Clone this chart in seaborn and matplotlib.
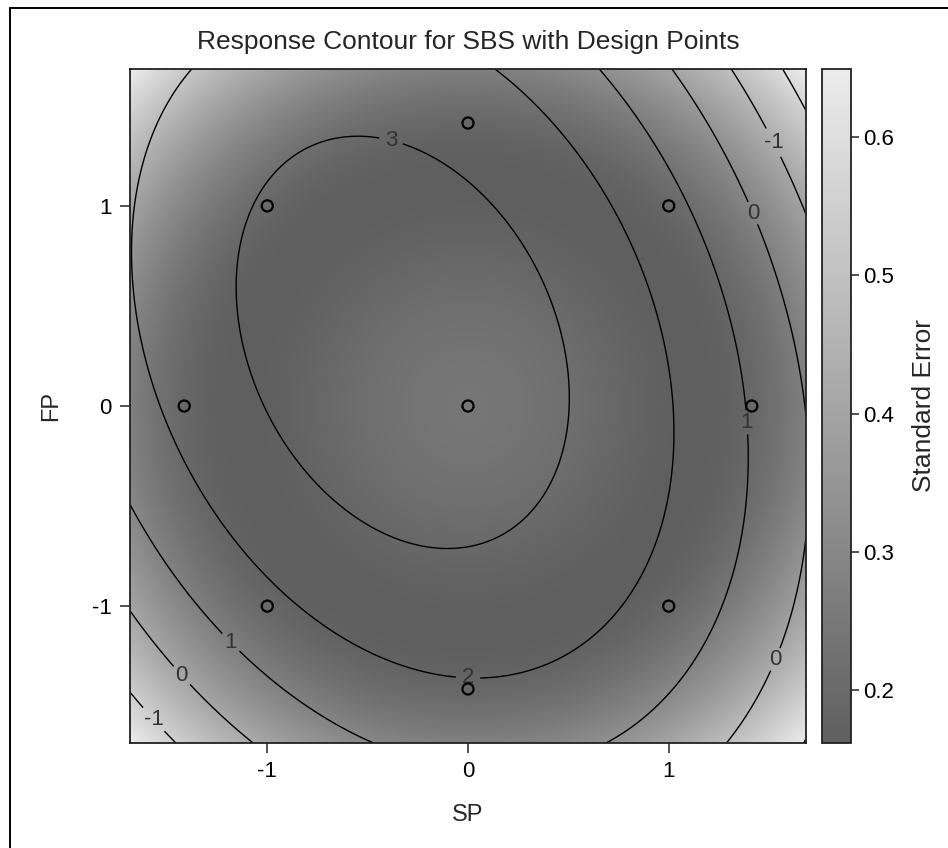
import numpy as np
import matplotlib
matplotlib.use("Agg")
import matplotlib.pyplot as plt
from matplotlib.lines import Line2D
import seaborn as sns

# ---- data -------------------------------------------------------------
# central composite design points (coded units)
design_sp = [-1.0, 1.0, -1.0, 1.0, -1.414, 1.414, 0.0, 0.0, 0.0]
design_fp = [-1.0, -1.0, 1.0, 1.0, 0.0, 0.0, -1.414, 1.414, 0.0]

# fitted quadratic response model for SBS
coef_names = ["Intercept", "SP", "FP", "SP*SP", "FP*FP", "SP*FP"]
coef_values = [3.4857, -0.4859, 0.2577, -0.9479, -0.6152, -0.4107]
root_mse = 0.2434

labeled_levels = [-1, 0, 1, 2, 3]
unlabeled_levels = [-2]
axis_ticks = [-1, 0, 1]
axis_tick_labels = ["-1", "0", "1"]
cbar_ticks = [0.2, 0.3, 0.4, 0.5, 0.6]
se_range = [0.162, 0.649]
axis_limit = 1.684

title = "Response Contour for SBS with Design Points"

# ---- style ------------------------------------------------------------
sns.set_style("ticks")
plt.rcParams["font.family"] = ["Liberation Sans", "DejaVu Sans"]
plt.rcParams["axes.unicode_minus"] = False
plt.rcParams["contour.negative_linestyle"] = "solid"

W, H = 948, 848
fig = plt.figure(figsize=(W / 100, H / 100), dpi=100)

def fx(px):
    return px / W

def fy(py):
    return 1 - py / H

ax = fig.add_axes([fx(130), fy(743), fx(806) - fx(130), fy(69) - fy(743)])
cax = fig.add_axes([fx(822), fy(743), fx(851) - fx(822), fy(69) - fy(743)])


def model_matrix(sp, fp):
    sp = np.asarray(sp, float)
    fp = np.asarray(fp, float)
    return np.column_stack([np.ones_like(sp), sp, fp, sp * sp, fp * fp, sp * fp])


g = np.linspace(-axis_limit, axis_limit, 401)
GX, GY = np.meshgrid(g, g)
F = model_matrix(GX.ravel(), GY.ravel())
Z = (F @ np.asarray(coef_values)).reshape(GX.shape)

D = model_matrix(design_sp, design_fp)
XtXi = np.linalg.inv(D.T @ D)
SE = (root_mse * np.sqrt(np.sum((F @ XtXi) * F, axis=1))).reshape(GX.shape)

cmap = sns.blend_palette(["#5f5f5f", "#ececec"], as_cmap=True)
im = ax.imshow(SE, extent=[-axis_limit, axis_limit, -axis_limit, axis_limit],
               origin="lower", cmap=cmap, vmin=se_range[0], vmax=se_range[1],
               aspect="auto", interpolation="bilinear", zorder=0)

ax.contour(GX, GY, Z, levels=unlabeled_levels, colors="black",
           linewidths=1.0, linestyles="solid", zorder=1)
cs = ax.contour(GX, GY, Z, levels=labeled_levels, colors="black",
                linewidths=1.0, linestyles="solid", zorder=1)
label_spots = [(-0.38, 1.34), (1.51, 1.31), (1.41, 0.96), (1.40, -0.08),
               (1.54, -1.27), (0.0, -1.36), (-1.18, -1.18), (-1.43, -1.35),
               (-1.57, -1.57)]
labels = ax.clabel(cs, inline=True, fontsize=16, colors="#333333", fmt="%g",
                   manual=label_spots, inline_spacing=6)
for t in labels:
    t.set_rotation(0)

sns.scatterplot(x=design_sp, y=design_fp, ax=ax, marker="o", s=64,
                facecolor="none", edgecolor="black", linewidth=1.6,
                zorder=3, legend=False)

ax.set_xlim(-axis_limit, axis_limit)
ax.set_ylim(-axis_limit, axis_limit)
ax.set_xticks(axis_ticks)
ax.set_xticklabels(axis_tick_labels)
ax.set_yticks(axis_ticks)
ax.set_yticklabels(axis_tick_labels)
ax.tick_params(direction="out", length=7, width=1.1, labelsize=16, pad=6,
               colors="#222222", labelcolor="black")
for s in ax.spines.values():
    s.set_visible(True)
    s.set_color("#222222")
    s.set_linewidth(1.3)

ax.set_xlabel("SP", fontsize=17)
ax.set_ylabel("FP", fontsize=17)
ax.xaxis.set_label_coords(0.5, (743 - 815) / 674)
ax.xaxis.label.set_verticalalignment("center")
ax.yaxis.set_label_coords((51 - 130) / 676, 0.5)
ax.yaxis.label.set_verticalalignment("center")

cb = fig.colorbar(im, cax=cax, ticks=cbar_ticks)
cb.ax.tick_params(direction="out", length=6, width=1.1, labelsize=16, pad=3,
                  colors="#222222", labelcolor="black")
cb.ax.set_yticklabels([f"{v:.1f}" for v in cbar_ticks])
cb.outline.set_edgecolor("#222222")
cb.outline.set_linewidth(1.3)
cb.set_label("Standard Error", fontsize=19)
cb.ax.yaxis.set_label_coords((924 - 822) / 29, 0.5)
cb.ax.yaxis.label.set_verticalalignment("center")

fig.text(fx(468), fy(42), title, ha="center", va="center", fontsize=19)

# outer frame (left and top edges)
fig.add_artist(Line2D([fx(9.5), fx(9.5)], [0, fy(8)], color="black", lw=1.4))
fig.add_artist(Line2D([fx(9.5), 1], [fy(8), fy(8)], color="black", lw=1.4))

fig.savefig("out.png", dpi=100)
